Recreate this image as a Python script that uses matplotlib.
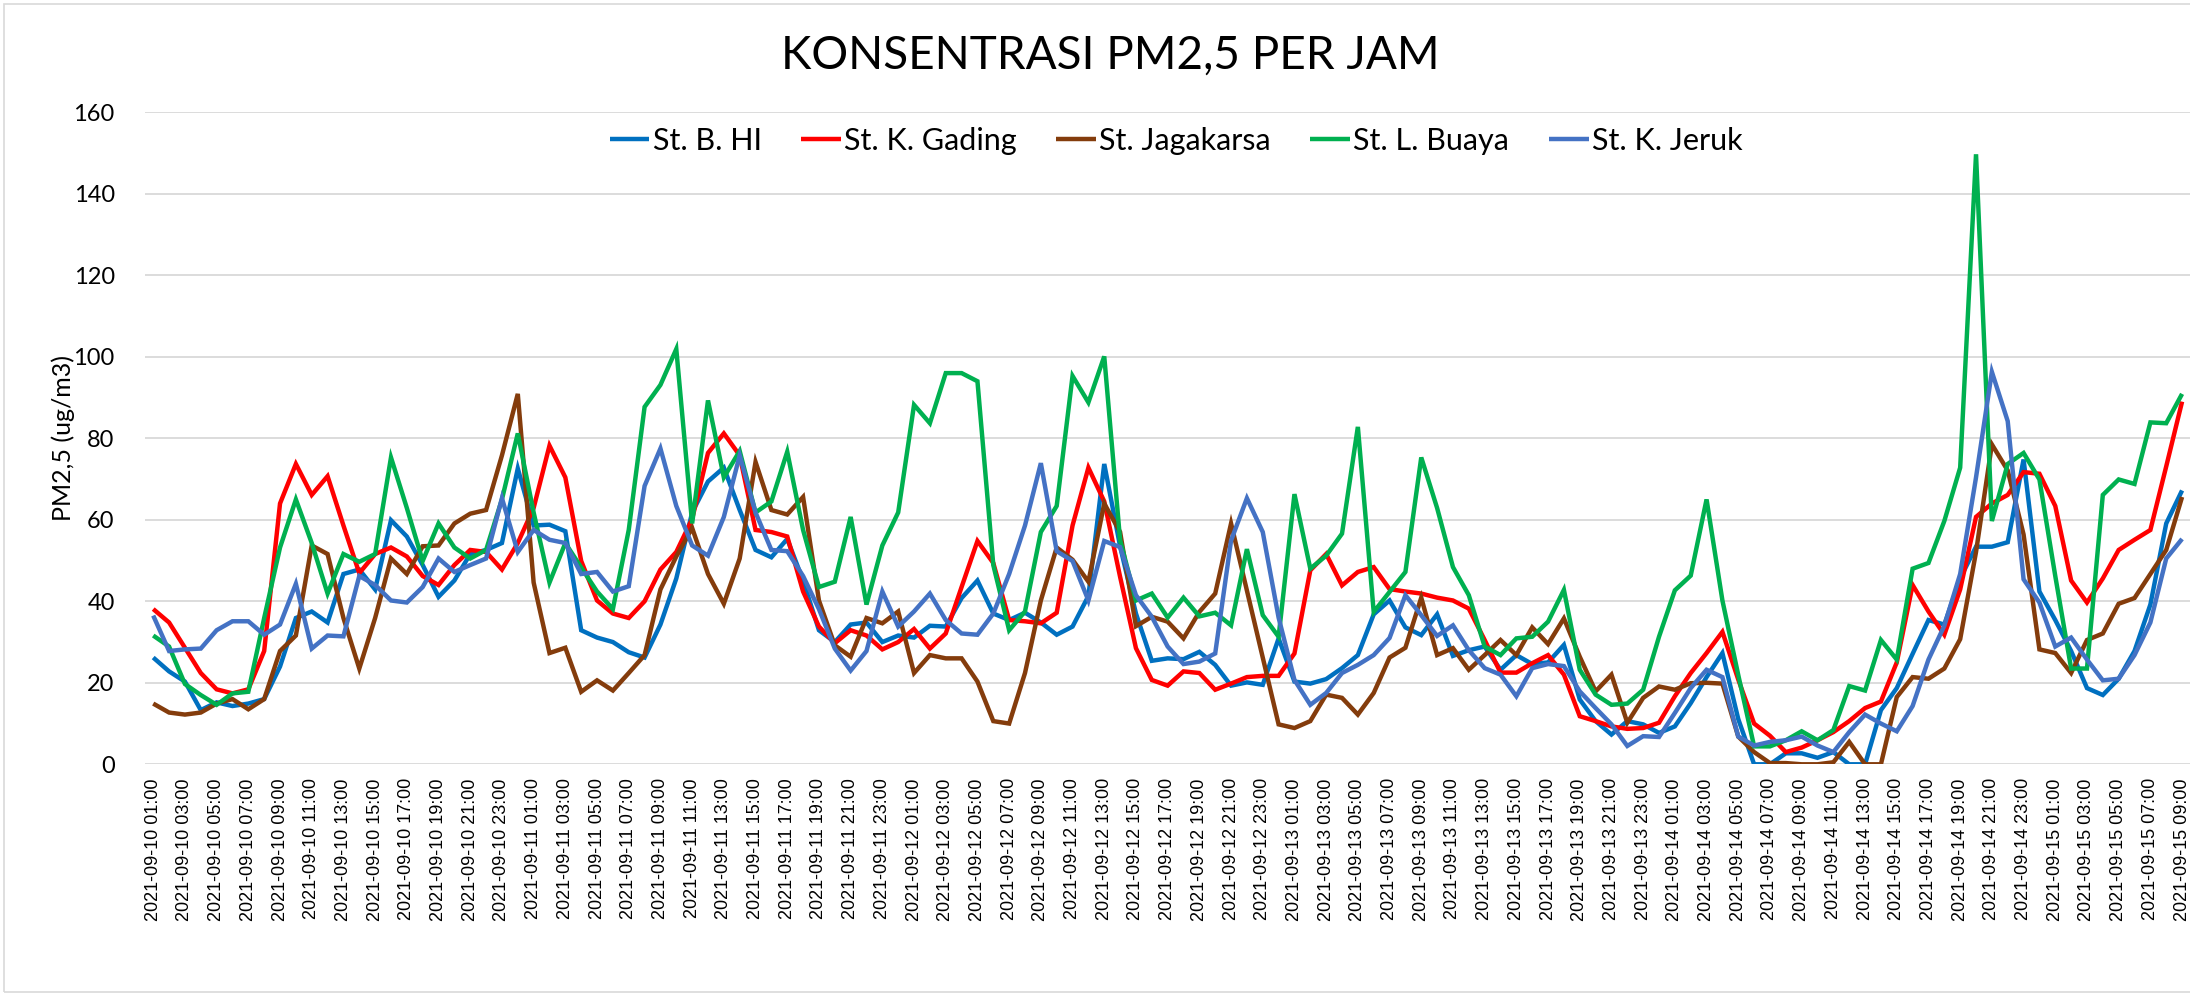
import matplotlib
matplotlib.use("Agg")
import matplotlib.pyplot as plt
from matplotlib.patches import Rectangle
import pandas as pd

start_time = "2021-09-10 01:00"
n_hours = 129

st_b_hi = [26.2, 22.8, 20.3, 13.3, 15.2, 14.3, 14.9, 16.0, 24.0, 35.9, 37.5, 34.8, 46.7, 47.8, 42.9, 59.9,
           55.9, 48.9, 41.1, 45.1, 51.6, 52.6, 54.3, 72.6, 58.6, 58.8, 57.2, 32.9, 31.1, 30.0, 27.5, 26.2,
           34.3, 45.6, 61.8, 69.4, 72.8, 62.4, 52.6, 50.8, 55.3, 45.1, 32.9, 30.0, 34.3, 34.8, 30.0, 31.6,
           31.1, 34.0, 33.8, 40.8, 45.1, 37.0, 35.4, 37.2, 34.8, 31.8, 33.8, 41.3, 73.7, 53.5, 37.0, 25.4,
           26.0, 25.8, 27.6, 24.4, 19.3, 20.1, 19.5, 30.9, 20.3, 19.8, 20.9, 23.6, 26.8, 36.8, 40.2, 33.6,
           31.7, 36.8, 26.6, 28.0, 28.9, 23.2, 26.8, 24.6, 25.0, 29.3, 15.9, 10.6, 7.3, 10.6, 9.8, 7.7,
           9.3, 15.0, 21.4, 27.3, 11.1, 0.0, 0.0, 2.7, 2.7, 1.6, 3.0, 0.0, 0.0, 13.3, 18.7, 27.1,
           35.4, 34.3, 45.6, 53.4, 53.4, 54.5, 74.8, 42.4, 35.4, 27.8, 18.7, 17.0, 21.0, 27.8, 39.2, 59.1, 67.2]

st_k_gading = [38.1, 34.8, 28.6, 22.4, 18.4, 17.4, 18.4, 27.8, 64.0, 73.7, 66.1, 70.7, 58.6, 46.9, 51.6, 53.2,
               51.0, 46.2, 44.0, 48.9, 52.6, 52.1, 47.8, 54.3, 62.9, 78.2, 70.4, 49.9, 40.2, 37.0, 35.9, 40.0,
               47.8, 52.1, 60.2, 76.4, 81.2, 75.8, 57.5, 57.0, 55.9, 42.4, 33.8, 29.7, 32.9, 31.6, 28.2, 30.0,
               33.2, 28.4, 32.1, 43.5, 54.8, 49.4, 35.4, 35.1, 34.6, 37.2, 58.6, 72.8, 64.5, 46.0, 28.5, 20.7,
               19.3, 22.8, 22.4, 18.3, 19.8, 21.4, 21.7, 21.7, 27.2, 47.6, 51.6, 43.9, 47.2, 48.4, 43.0, 42.4,
               41.9, 40.9, 40.2, 38.2, 30.5, 22.5, 22.5, 24.8, 26.8, 22.0, 11.8, 10.6, 9.3, 8.7, 8.9, 10.2,
               16.7, 22.4, 27.3, 32.5, 20.8, 10.0, 7.0, 3.0, 4.1, 5.9, 7.9, 10.6, 13.8, 15.4, 25.0, 44.0,
               37.5, 31.8, 42.9, 60.7, 64.0, 66.1, 71.7, 71.3, 63.4, 45.1, 39.7, 45.6, 52.6, 55.1, 57.5, 73.1, 89.0]

st_jagakarsa = [14.9, 12.7, 12.2, 12.7, 14.9, 16.0, 13.5, 16.0, 27.8, 31.6, 53.7, 51.6, 35.9, 23.5, 35.9, 50.5,
                46.7, 53.5, 53.7, 59.1, 61.5, 62.4, 75.8, 90.9, 44.6, 27.3, 28.6, 17.8, 20.6, 18.1, 22.4, 26.8,
                42.9, 51.0, 58.0, 46.7, 39.4, 50.5, 74.2, 62.4, 61.3, 65.6, 40.2, 29.2, 26.4, 35.9, 34.6, 37.5,
                22.4, 26.8, 26.0, 26.0, 20.3, 10.6, 10.0, 22.4, 40.2, 53.2, 50.2, 44.8, 64.0, 57.0, 33.9, 36.2,
                35.0, 30.9, 37.4, 41.9, 59.1, 42.6, 26.2, 9.8, 8.9, 10.6, 17.1, 16.3, 12.2, 17.5, 26.2, 28.6,
                40.9, 26.8, 28.5, 23.2, 26.8, 30.5, 26.8, 33.6, 29.5, 35.8, 26.4, 17.9, 22.0, 10.2, 16.3, 19.1,
                18.3, 19.9, 20.0, 19.8, 6.8, 3.0, 0.3, 0.3, 0.0, 0.0, 0.5, 5.5, 0.0, 0.0, 16.5, 21.4,
                21.0, 23.5, 30.7, 52.1, 78.5, 72.1, 56.4, 28.2, 27.3, 22.4, 30.5, 32.1, 39.4, 40.8, 46.7, 52.6, 65.6]

st_l_buaya = [31.6, 28.9, 19.7, 17.0, 14.6, 17.4, 17.8, 35.9, 53.2, 65.0, 54.3, 41.9, 51.6, 49.7, 51.6, 75.3,
              62.9, 49.9, 59.1, 53.2, 50.5, 52.6, 65.0, 81.2, 61.8, 44.6, 54.3, 48.3, 42.4, 38.1, 57.5, 87.7,
              93.1, 101.9, 59.1, 89.3, 70.4, 76.9, 61.8, 64.5, 76.7, 57.5, 43.5, 44.8, 60.7, 39.2, 53.7, 61.8,
              88.2, 83.7, 96.0, 96.0, 94.0, 48.9, 32.9, 37.5, 57.0, 63.4, 95.3, 88.8, 100.1, 55.0, 40.2, 41.9,
              36.0, 40.9, 36.3, 37.2, 34.1, 52.8, 36.6, 31.3, 66.3, 48.0, 51.2, 56.6, 82.8, 37.4, 42.3, 47.2,
              75.3, 62.9, 48.4, 41.5, 28.9, 26.8, 30.9, 31.3, 35.0, 42.8, 23.2, 17.1, 14.6, 14.9, 18.3, 31.3,
              42.7, 46.3, 65.0, 40.2, 21.9, 4.4, 4.4, 5.9, 8.1, 5.9, 8.4, 19.2, 18.1, 30.5, 25.7, 48.0,
              49.4, 59.7, 72.8, 149.7, 59.7, 73.7, 76.4, 69.9, 46.2, 23.5, 23.5, 66.1, 69.9, 68.8, 83.9, 83.7, 90.9]

st_k_jeruk = [36.5, 27.8, 28.2, 28.4, 32.9, 35.1, 35.1, 31.8, 34.3, 44.3, 28.4, 31.6, 31.4, 46.2, 44.0, 40.2,
              39.7, 43.5, 50.5, 47.2, 48.9, 50.5, 65.3, 52.1, 57.5, 55.1, 54.3, 46.7, 47.2, 42.4, 43.7, 68.3,
              77.5, 63.4, 53.7, 51.2, 60.7, 75.8, 61.8, 52.6, 52.3, 46.2, 38.1, 28.4, 23.0, 27.8, 42.4, 33.8,
              37.5, 41.9, 35.4, 32.1, 31.8, 37.0, 46.7, 58.6, 73.9, 52.3, 49.9, 40.2, 54.8, 53.3, 41.5, 36.2,
              28.9, 24.6, 25.2, 27.2, 54.9, 65.3, 57.0, 36.0, 20.7, 14.6, 17.5, 22.4, 24.4, 26.8, 31.0, 41.5,
              36.6, 31.5, 34.1, 28.0, 23.6, 22.0, 16.7, 23.6, 24.6, 24.1, 17.9, 13.8, 9.8, 4.5, 6.9, 6.7,
              12.6, 18.7, 23.2, 21.4, 6.8, 4.6, 5.5, 5.9, 6.8, 4.6, 3.0, 7.9, 12.2, 10.0, 8.1, 14.3,
              25.7, 34.0, 46.7, 70.4, 96.3, 84.2, 45.4, 39.7, 28.9, 31.1, 25.7, 20.6, 21.0, 26.8, 34.8, 50.5, 55.3]

series_names = ["St. B. HI", "St. K. Gading", "St. Jagakarsa", "St. L. Buaya", "St. K. Jeruk"]
series_colors = ["#0070C0", "#FF0000", "#843C0C", "#00B050", "#4472C4"]
y_ticks = [0, 20, 40, 60, 80, 100, 120, 140, 160]
title_text = "KONSENTRASI PM2,5 PER JAM"
y_label = "PM2,5 (ug/m3)"

times = pd.date_range(start_time, periods=n_hours, freq="h")
labels = times.strftime("%Y-%m-%d %H:%M")

W, H = 2190, 996
fig = plt.figure(figsize=(W / 100, H / 100), dpi=100)
fig.patches.append(Rectangle((4 / W, 4 / H), (W + 10) / W, (H - 8) / H, transform=fig.transFigure,
                             fill=False, edgecolor="#D9D9D9", linewidth=1.2))

ax = fig.add_axes([145.3 / W, 1 - 764.3 / H, (W - 145.3) / W, (764.3 - 112.3) / H])

x = list(range(n_hours))
all_series = [st_b_hi, st_k_gading, st_jagakarsa, st_l_buaya, st_k_jeruk]
for vals, name, col in zip(all_series, series_names, series_colors):
    ax.plot(x, vals, color=col, lw=3.2, label=name, solid_joinstyle="miter", solid_capstyle="butt")

ax.set_xlim(-0.5, n_hours - 0.5)
ax.set_ylim(0, 160)
ax.set_yticks(y_ticks)
ax.set_yticklabels([str(v) for v in y_ticks], fontfamily="Lato", fontsize=17)
ax.set_xticks(x[::2])
ax.set_xticklabels(labels[::2], rotation=90, fontfamily="Liberation Sans", fontsize=13)
ax.tick_params(axis="y", length=0, pad=22, colors="#000000")
ax.tick_params(axis="x", length=0, pad=10, colors="#000000")
ax.yaxis.grid(True, color="#D9D9D9", lw=1.3)
ax.set_axisbelow(True)
for s in ax.spines.values():
    s.set_visible(False)

fig.text(63 / W, 1 - 438 / H, y_label, rotation=90, ha="center", va="center",
         fontfamily="Lato", fontsize=18)
fig.text(1110 / W, 1 - 56 / H, title_text, ha="center", va="center", fontfamily="Lato", fontsize=33)

fig.legend(loc="center", bbox_to_anchor=(1176 / W, 1 - 141 / H), ncol=5, frameon=False,
           prop={"family": "Lato", "size": 22}, handlelength=1.3, handletextpad=0.1,
           columnspacing=1.3)

fig.savefig("out.png", dpi=100, facecolor="white")
